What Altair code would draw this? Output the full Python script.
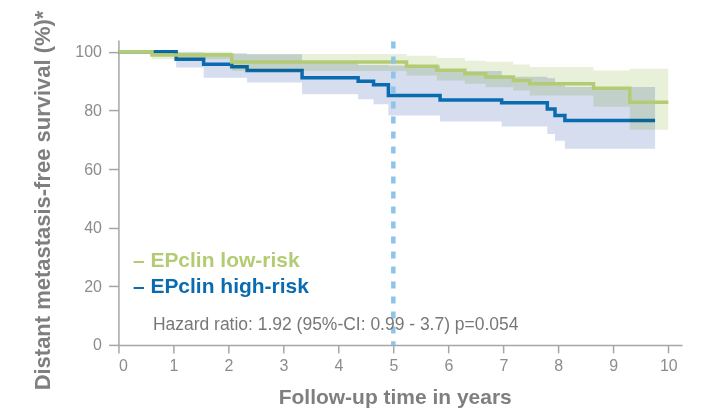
import altair as alt
import pandas as pd

# ---- data ----
low_t = [0, 0.61, 2.06, 5.24, 5.79, 6.30, 6.68, 7.18, 7.48, 8.64, 9.30, 10.0]
low_s = [100, 98.9, 96.5, 95.1, 93.7, 92.5, 91.4, 90.2, 89.1, 87.6, 82.8, 82.8]
low_lo = [100, 97.5, 93.5, 91.9, 90.2, 89.1, 87.9, 86.8, 85.1, 81.3, 73.4, 73.4]
low_hi = [100, 100, 99.3, 98.7, 97.9, 97.0, 96.6, 95.7, 94.8, 93.6, 94.2, 94.2]

high_t = [0, 1.05, 1.55, 2.06, 2.34, 3.34, 4.36, 4.64, 4.91, 5.85, 6.97, 7.80, 7.94, 8.12, 9.76]
high_s = [100, 97.5, 95.8, 94.9, 93.6, 91.2, 90.0, 88.8, 85.1, 83.6, 82.6, 80.5, 78.3, 76.6, 76.6]
high_lo = [100, 94.7, 91.2, 91.2, 89.5, 85.5, 83.8, 82.1, 78.3, 76.2, 74.5, 72.0, 69.7, 66.9, 66.9]
high_hi = [100, 99.8, 99.6, 99.5, 99.2, 96.8, 95.5, 95.5, 95.3, 93.5, 91.5, 91.0, 89.5, 88.0, 88.0]

legend_labels = ["– EPclin low-risk", "– EPclin high-risk"]
hazard_text = ["Hazard ratio: 1.92 (95%-CI: 0.99 - 3.7) p=0.054"]
x_ticks = [0, 1, 2, 3, 4, 5, 6, 7, 8, 9, 10]
y_ticks = [0, 20, 40, 60, 80, 100]
landmark = [5]

GREEN = "#b3cc74"
BLUE = "#0b6bb0"
GREEN_BAND = "#e8f0d9"
BLUE_BAND = "#d5ddee"
DASH = "#8ec4ea"
FONT = "Liberation Sans"

low = pd.DataFrame({"t": low_t, "s": low_s, "lo": low_lo, "hi": low_hi})
high = pd.DataFrame({"t": high_t, "s": high_s, "lo": high_lo, "hi": high_hi})

xs = alt.Scale(domain=[0, 10.25], nice=False, zero=False)
ys = alt.Scale(domain=[0, 104], nice=False)

x_axis = alt.Axis(values=x_ticks, title="Follow-up time in years", tickSize=8,
                  labelPadding=5, labelFontSize=16, titleFontSize=21,
                  titleFontWeight="bold", titleX=276.5, titleY=58.5,
                  titleAlign="center", titleBaseline="alphabetic", format="d")
y_axis = alt.Axis(values=y_ticks, title="Distant metastasis-free survival (%)*",
                  tickSize=10, labelPadding=7, labelFontSize=16, titleFontSize=22,
                  titleFontWeight="bold", titleX=-68.5, titleY=160, titleAngle=270,
                  titleAlign="center", titleBaseline="alphabetic", format="d")

blue_band = alt.Chart(high).mark_area(interpolate="step-after", color=BLUE_BAND).encode(
    x=alt.X("t:Q", scale=xs, axis=x_axis),
    y=alt.Y("lo:Q", scale=ys, axis=y_axis),
    y2="hi:Q",
)
blue_line = alt.Chart(high).mark_line(interpolate="step-after", color=BLUE, strokeWidth=3.5).encode(
    x=alt.X("t:Q", scale=xs), y=alt.Y("s:Q", scale=ys)
)
green_band = alt.Chart(low).mark_area(interpolate="step-after", color=GREEN_BAND, blend="multiply").encode(
    x=alt.X("t:Q", scale=xs), y=alt.Y("lo:Q", scale=ys), y2="hi:Q"
)
green_line = alt.Chart(low).mark_line(interpolate="step-after", color=GREEN, strokeWidth=3.5).encode(
    x=alt.X("t:Q", scale=xs), y=alt.Y("s:Q", scale=ys)
)
rule = alt.Chart(pd.DataFrame({"x": landmark})).mark_rule(
    color=DASH, strokeWidth=4.5, strokeDash=[7, 8]
).encode(x=alt.X("x:Q", scale=xs), y=alt.datum(103.5), y2=alt.datum(0))

leg1 = alt.Chart(pd.DataFrame({"label": [legend_labels[0]]})).mark_text(
    align="left", baseline="alphabetic", fontSize=21, fontWeight="bold", font=FONT
).encode(text="label:N", x=alt.value(14.5), y=alt.value(227), color=alt.value(GREEN))
leg2 = alt.Chart(pd.DataFrame({"label": [legend_labels[1]]})).mark_text(
    align="left", baseline="alphabetic", fontSize=21, fontWeight="bold", font=FONT
).encode(text="label:N", x=alt.value(14.5), y=alt.value(253), color=alt.value(BLUE))
hz = alt.Chart(pd.DataFrame({"label": hazard_text})).mark_text(
    align="left", baseline="alphabetic", fontSize=17.5, font=FONT
).encode(text="label:N", x=alt.value(34.5), y=alt.value(290), color=alt.value("#777777"))

chart = alt.layer(blue_band, blue_line, green_band, green_line, rule, leg1, leg2, hz).properties(
    width=564, height=305,
    padding={"left": 110.5, "top": 32, "right": 20, "bottom": 64},
    autosize=alt.AutoSizeParams(type="none"),
    background="white",
).configure_view(stroke=None).configure_axis(
    grid=False, domainColor="#a6a6a6", tickColor="#a6a6a6", domainWidth=1.5, tickWidth=1.5,
    labelColor="#8c8c8c", titleColor="#7f7f7f", labelFont=FONT, titleFont=FONT,
)

chart.save("out.html", embed_options={"renderer": "svg", "actions": False})
